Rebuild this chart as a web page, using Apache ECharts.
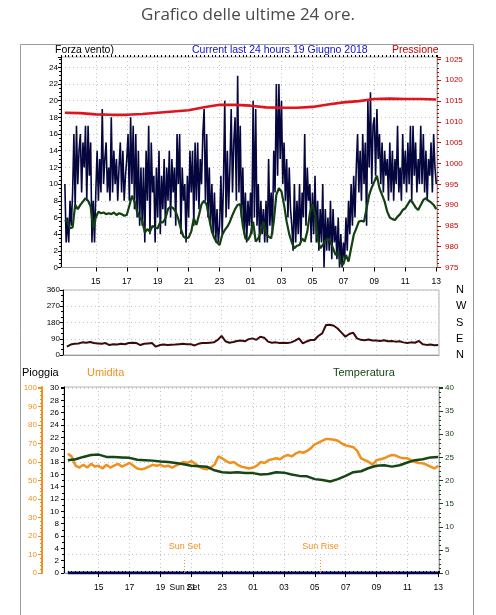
<!DOCTYPE html>
<html><head><meta charset="utf-8">
<script src="https://cdn.jsdelivr.net/npm/echarts@6/dist/echarts.min.js"></script>
<style>html,body{margin:0;padding:0;background:#fff}#c{width:496px;height:615px}</style>
</head><body><div id="c"></div>
<script>
// time axis: hours from 00:00 of 18 June (13 = 13:00, 37 = 13:00 next day)
const START = 13;
const hourTicks  = [15, 17, 19, 21, 23, 25, 27, 29, 31, 33, 35, 37];
const hourLabels = ['15','17','19','21','23','01','03','05','07','09','11','13'];
const sunSet = 20.57, sunRise = 29.37;

// wind gust (5-min samples)
const windGust = [
 10,3,6,3,8,5,9,16,7,17,10,14,
 16,9,15,12,17,8,17,11,15,3,8,3,
 9,14,8,13,9,19,10,13,15,9,12,8,
 18,9,14,10,13,8,12,15,9,14,8,11,
 13,16,8,18,10,17,7,16,6,14,5,12,
 5,12,3,14,8,17,4,15,9,11,3,12,
 6,14,4,11,7,13,5,12,8,14,6,13,
 9,12,5,16,10,16,4,12,8,10,3,11,
 6,14,9,14,5,15,8,15,7,13,10,16,
 19,8,16,6,12,5,10,4,9,3,7,3,
 5,11,4,10,20,6,14,7,12,19,9,15,
 18,8,23,9,17,6,12,4,9,3,8,5,
 9,4,20,6,19,5,10,3,8,4,7,3,
 8,3,13,5,9,4,14,9,22,11,22,13,
 20,10,15,8,13,6,12,7,5,2,10,3,
 8,4,10,3,9,6,16,5,12,8,10,3,
 9,4,11,3,8,2,7,3,10,0,7,2,
 6,2,8,1,7,3,5,1,6,0,4,0,
 3,1,6,2,8,4,10,5,11,6,12,16,
 9,14,8,16,10,15,5,20,12,21,10,17,
 18,11,19,13,16,10,15,9,14,11,13,8,
 15,9,14,8,13,10,17,9,12,8,16,10,
 14,9,15,10,17,8,17,11,15,9,13,10,
 17,10,16,9,14,8,13,11,15,9,16,12,
 10];
// average wind (10-min samples)
const windAvg = [
 5.7,5.5,4.7,4.8,7.5,7.0,
 7.5,7.9,8.3,8.0,7.3,4.7,
 6.0,6.7,6.5,6.6,6.4,6.5,
 6.4,6.6,6.3,6.5,6.4,6.2,
 6.3,7.4,8.6,7.9,6.7,6.0,
 5.6,4.2,4.6,4.3,5.0,4.8,
 4.7,5.5,5.4,5.9,7.0,7.3,
 7.1,6.7,5.8,4.6,3.7,3.5,
 3.6,4.3,5.9,5.1,6.3,7.6,
 8.0,7.5,5.8,4.3,3.5,3.0,
 2.7,3.9,4.5,4.9,5.5,6.3,
 7.0,7.5,7.6,5.0,3.5,3.3,
 3.9,5.5,3.1,3.5,4.3,5.5,
 4.0,3.7,3.5,5.5,8.7,9.5,
 9.1,7.5,5.5,4.0,3.0,2.3,
 2.6,2.7,3.5,3.1,4.3,6.5,
 7.6,6.3,3.5,2.3,2.7,3.2,
 3.5,3.1,2.3,1.5,1.9,0.5,
 0.4,1.5,0.7,2.3,3.9,4.7,
 5.5,5.6,5.5,7.1,8.7,9.6,
 10.3,11.0,9.5,8.7,7.9,6.7,
 6.0,5.8,5.7,6.1,6.4,6.9,
 7.1,7.6,8.1,7.7,7.2,6.9,
 7.5,8.1,8.3,8.0,7.8,7.5,
 7.0];
// pressure (hourly)
const pressure = [1012.2,1012.1,1011.8,1011.7,1011.7,1011.9,1012.2,1012.5,1012.8,1013.5,1014.1,1014.1,1013.9,
 1013.5,1013.4,1013.4,1013.6,1014.2,1014.7,1015.0,1015.5,1015.6,1015.5,1015.5,1015.4];
// wind direction (15-min samples)
const direction = [
 46,58,62,64, 70,68,72,66, 64,62,66,55, 60,58,62,60, 66,68,66,55, 62,64,66,46,
 55,58,56,57, 58,60,62,60, 60,53,62,66, 66,68,70,84, 106,76,68,72, 78,80,76,88,
 92,84,101,96, 74,68,70,66, 68,66,70,80, 92,64,75,83, 83,105,120,166, 168,162,147,124,
 101,116,124,92, 84,82,86,80, 80,78,82,76, 78,74,76,70, 66,70,68,78, 60,56,58,54,
 55];
// humidity (15-min samples)
const humidity = [
 64.5,63,58,57, 58.5,57,59,57.5, 58,56.5,58.5,57, 58,59,57.5,58.5, 59.5,58,56.5,56,
 56.5,57.5,58.5,58, 58.5,57.5,58,57, 58,59,60,59.5, 60.5,59,57.5,56.5, 56,57,58.5,63,
 62,60.5,59.5,60, 58.5,57.5,57,56.5, 57,58,60,59.5, 61,61.5,62,61.5, 63,63.8,63,64.5,
 65.5,65,66,67.5, 69.5,70.5,71.5,72.5, 72.3,72,71.5,70, 69,68.5,68,66, 62,61,60,58.5,
 61,61.5,62,63, 63.8,63.5,62.5,62, 62,61,60,59.5, 59.3,58.5,57.5,56.5, 58];
// temperature (30-min samples)
const temperature = [24.4,24.6,25.1,25.5,25.6,25.1,25.1,25.0,24.9,24.5,24.4,24.3,24.1,24.0,23.8,23.5,
 23.2,23.1,23.0,22.2,21.8,21.7,21.8,21.6,21.6,21.3,21.4,21.8,21.7,21.3,21.0,20.9,20.3,20.1,19.8,
 20.3,21.0,21.8,22.0,22.7,23.2,23.3,23.0,23.3,23.9,24.4,24.6,25.0,25.1];
// rain (start / end)
const rain = [[13, 0], [37, 0]];

function series(arr, perHour) { return arr.map((v, i) => [START + i / perHour, v]); }

const XMIN = 12.75, XMAX = 37.05;
const F = 'Liberation Sans, Arial, sans-serif';
const dotted = {show: true, lineStyle: {color: '#c4c4c4', type: [1, 3], width: 1}};
const plain = v => String(v);
function hourFmt(v) {
  if (Math.abs(v - sunSet) < 0.01) return 'Sun Set';
  const i = hourTicks.indexOf(Math.round(v));
  return i >= 0 ? hourLabels[i] : '';
}
function mainX(g, labels, extraLabel) {
  return {gridIndex: g, type: 'value', min: XMIN, max: XMAX,
    axisLine: {show: true, lineStyle: {color: '#9a9a9a'}},
    axisTick: {show: labels, customValues: hourTicks, length: 4, lineStyle: {color: '#000'}},
    axisLabel: {show: labels, customValues: extraLabel ? hourTicks.concat([sunSet]) : hourTicks,
      formatter: hourFmt, fontSize: 8.5, color: '#000', fontFamily: F, margin: 10},
    splitLine: dotted};
}
function minorX(g) {
  return {gridIndex: g, type: 'value', min: XMIN, max: XMAX, interval: 0.25,
    axisLine: {show: false}, axisTick: {show: true, length: 2, lineStyle: {color: '#000'}},
    axisLabel: {show: false}, splitLine: {show: false}};
}
const green = '#164616', orange = '#f0901e';
const T = (text, left, top, color, size, fam) => ({text, left, top, padding: 0,
  textStyle: {fontSize: size || 10.5, color, fontWeight: 'normal', fontFamily: fam || F}});

const option = {
  animation: false,
  backgroundColor: '#fff',
  title: [
    T('Grafico delle ultime 24 ore.', 'center', 7, '#4a4a4a', 17, 'Open Sans, sans-serif'),
    T('Forza vento)', 55, 45, '#000'),
    T('Current last 24 hours 19 Giugno 2018', 192, 45, '#1010c8'),
    T('Pressione', 392, 45, '#c80000'),
    T('Pioggia', 22, 367, '#000', 11),
    T('Umidita', 87, 367, orange, 11),
    T('Temperatura', 333, 367, green, 11)
  ],
  graphic: [{type: 'rect', shape: {x: 20.5, y: 44.5, width: 453, height: 620}, style: {fill: null, stroke: '#9a9a9a', lineWidth: 1}, silent: true, z: -10}],
  grid: [
    {left: 61, top: 57, width: 376, height: 210.5, show: true, borderColor: '#b4b4b4', borderWidth: 1, backgroundColor: '#fff'},
    {left: 63, top: 290, width: 376, height: 65, show: true, borderColor: '#b4b4b4', borderWidth: 1, backgroundColor: '#fff'},
    {left: 64, top: 387, width: 375, height: 186, show: true, borderColor: '#b4b4b4', borderWidth: 1, backgroundColor: '#fff'}
  ],
  xAxis: [mainX(0, true, false), minorX(0), mainX(1, false, false), mainX(2, true, true), minorX(2)],
  yAxis: [
    {gridIndex: 0, type: 'value', min: 0, max: 25.24, interval: 2, position: 'left',
     axisLine: {show: true, lineStyle: {color: '#000'}}, axisTick: {length: 3, lineStyle: {color: '#000'}},
     minorTick: {show: true, splitNumber: 4, length: 2, lineStyle: {color: '#000'}},
     axisLabel: {fontSize: 8, color: '#000', fontFamily: F, margin: 3, showMaxLabel: false, formatter: plain}, splitLine: dotted},
    {gridIndex: 0, type: 'value', min: 975, max: 1025.6, interval: 5, position: 'right',
     axisLine: {show: true, lineStyle: {color: '#9a9a9a'}}, axisTick: {length: 4, lineStyle: {color: '#c80000'}},
     minorTick: {show: true, splitNumber: 5, length: 2, lineStyle: {color: '#c80000'}},
     axisLabel: {fontSize: 8, color: '#c80000', fontFamily: F, margin: 8, showMaxLabel: false, formatter: plain}, splitLine: {show: false}},
    {gridIndex: 1, type: 'value', min: 0, max: 360, interval: 90, position: 'left',
     axisLine: {show: true, lineStyle: {color: '#000'}}, axisTick: {length: 3, lineStyle: {color: '#000'}},
     minorTick: {show: true, splitNumber: 3, length: 2, lineStyle: {color: '#000'}},
     axisLabel: {fontSize: 8, color: '#000', fontFamily: F, margin: 3, formatter: plain}, splitLine: dotted},
    {gridIndex: 1, type: 'value', min: 0, max: 360, interval: 90, position: 'right',
     axisLine: {show: false}, axisTick: {show: false},
     axisLabel: {fontSize: 11, color: '#000', fontFamily: F, margin: 17,
       formatter: v => ({0: 'N', 90: 'E', 180: 'S', 270: 'W', 360: 'N'})[v] || ''}, splitLine: {show: false}},
    {gridIndex: 2, type: 'value', min: 0, max: 30.16, interval: 2, position: 'left',
     axisLine: {show: true, lineStyle: {color: '#000'}}, axisTick: {length: 3, lineStyle: {color: '#000'}},
     minorTick: {show: true, splitNumber: 2, length: 2, lineStyle: {color: '#000'}},
     axisLabel: {fontSize: 8, color: '#000', fontFamily: F, margin: 5, showMaxLabel: false, formatter: plain}, splitLine: {show: false}},
    {gridIndex: 2, type: 'value', min: 0, max: 100.54, interval: 10, position: 'left', offset: 22,
     axisLine: {show: true, lineStyle: {color: orange, width: 2}}, axisTick: {length: 4, lineStyle: {color: orange}},
     minorTick: {show: true, splitNumber: 5, length: 2, lineStyle: {color: orange}},
     axisLabel: {fontSize: 8, color: orange, fontFamily: F, margin: 5, showMaxLabel: false, formatter: plain}, splitLine: dotted},
    {gridIndex: 2, type: 'value', min: 0, max: 40.22, interval: 5, position: 'right',
     axisLine: {show: true, lineStyle: {color: '#9a9a9a'}}, axisTick: {length: 4, lineStyle: {color: green}},
     minorTick: {show: true, splitNumber: 5, length: 2, lineStyle: {color: green}},
     axisLabel: {fontSize: 8, color: green, fontFamily: F, margin: 6, showMaxLabel: false, formatter: plain}, splitLine: {show: false}}
  ],
  series: [
    {name: 'Raffica', type: 'line', xAxisIndex: 0, yAxisIndex: 0, data: series(windGust, 12), showSymbol: false,
     lineStyle: {color: '#06063f', width: 1.6}, itemStyle: {color: '#06063f'}},
    {name: 'Vento medio', type: 'line', xAxisIndex: 0, yAxisIndex: 0, data: series(windAvg, 6), showSymbol: false,
     lineStyle: {color: '#124012', width: 2.2}, itemStyle: {color: '#124012'}},
    {name: 'Pressione', type: 'line', xAxisIndex: 0, yAxisIndex: 1, data: series(pressure, 1), showSymbol: false,
     lineStyle: {color: '#e0141e', width: 2.6}, itemStyle: {color: '#e0141e'}},
    {name: 'Direzione', type: 'line', xAxisIndex: 2, yAxisIndex: 2, data: series(direction, 4), showSymbol: false,
     lineStyle: {color: '#3c0a0a', width: 2}, itemStyle: {color: '#3c0a0a'}},
    {name: 'Umidita', type: 'line', xAxisIndex: 3, yAxisIndex: 5, data: series(humidity, 4), showSymbol: false,
     lineStyle: {color: orange, width: 2.5}, itemStyle: {color: orange}},
    {name: 'Temperatura', type: 'line', xAxisIndex: 3, yAxisIndex: 6, data: series(temperature, 2), showSymbol: false,
     lineStyle: {color: green, width: 2.5}, itemStyle: {color: green}},
    {name: 'Pioggia', type: 'line', xAxisIndex: 3, yAxisIndex: 4, data: rain, showSymbol: false,
     lineStyle: {color: '#000055', width: 3}, itemStyle: {color: '#000055'},
     markLine: {silent: true, symbol: 'none',
       lineStyle: {color: orange, type: [1, 2], width: 1},
       label: {show: true, position: 'end', color: orange, fontSize: 9, fontFamily: F, distance: 7, formatter: p => p.name},
       data: [
         [{coord: [sunSet, 0], name: 'Sun Set'}, {coord: [sunSet, 2.5]}],
         [{coord: [sunRise, 0], name: 'Sun Rise'}, {coord: [sunRise, 2.5]}]
       ]}}
  ]
};
const chart = echarts.init(document.getElementById('c'), null, {renderer: 'canvas'});
chart.setOption(option);
</script></body></html>
